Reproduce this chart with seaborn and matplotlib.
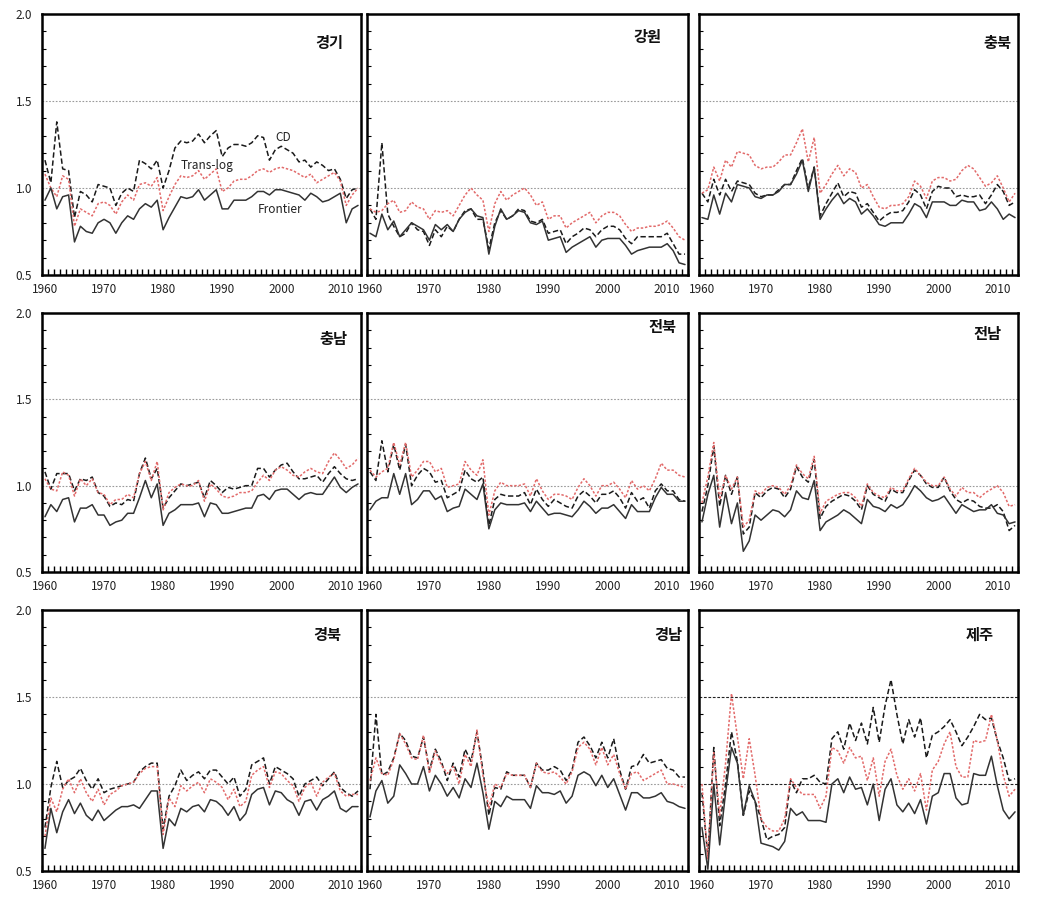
import numpy as np
import pandas as pd
import matplotlib
matplotlib.use("Agg")
import matplotlib.pyplot as plt
import seaborn as sns

# ---------------- data ----------------
years = list(range(1960, 2014))
regions = ["경기", "강원", "충북", "충남", "전북", "전남", "경북", "경남", "제주"]
series_names = ["CD", "Trans-log", "Frontier"]
y_ticks = [0.5, 1.0, 1.5, 2.0]
x_ticks = [1960, 1970, 1980, 1990, 2000, 2010]
ref_levels = [1.0, 1.5]

gg_cd = [1.16, 1.03, 1.38, 1.11, 1.10, 0.83, 0.98, 0.96, 0.92, 1.02,
         1.01, 1.00, 0.90, 0.97, 1.00, 0.98, 1.16, 1.14, 1.11, 1.16,
         1.00, 1.10, 1.23, 1.27, 1.26, 1.27, 1.31, 1.26, 1.30, 1.33,
         1.18, 1.23, 1.25, 1.25, 1.24, 1.26, 1.30, 1.29, 1.16, 1.22,
         1.24, 1.22, 1.20, 1.15, 1.16, 1.12, 1.15, 1.13, 1.10, 1.11,
         1.05, 0.94, 0.99, 1.00]
gg_tl = [1.08, 1.00, 0.95, 1.07, 1.05, 0.78, 0.88, 0.86, 0.84, 0.91,
         0.92, 0.90, 0.85, 0.92, 0.96, 0.93, 1.02, 1.03, 1.01, 1.06,
         0.87, 0.95, 1.02, 1.07, 1.06, 1.07, 1.10, 1.05, 1.08, 1.11,
         0.98, 1.00, 1.04, 1.05, 1.05, 1.07, 1.10, 1.11, 1.09, 1.11,
         1.12, 1.11, 1.10, 1.08, 1.06, 1.08, 1.03, 1.05, 1.07, 1.09,
         1.04, 0.90, 0.96, 1.00]
gg_fr = [0.93, 1.00, 0.88, 0.95, 0.96, 0.69, 0.78, 0.75, 0.74, 0.80,
         0.82, 0.80, 0.74, 0.80, 0.84, 0.82, 0.88, 0.91, 0.89, 0.93,
         0.76, 0.83, 0.89, 0.95, 0.94, 0.95, 0.99, 0.93, 0.96, 0.99,
         0.88, 0.88, 0.93, 0.93, 0.93, 0.95, 0.98, 0.98, 0.96, 0.99,
         0.99, 0.98, 0.97, 0.96, 0.93, 0.97, 0.95, 0.92, 0.93, 0.95,
         0.97, 0.80, 0.88, 0.90]

gw_cd = [0.88, 0.82, 1.26, 0.85, 0.78, 0.72, 0.74, 0.80, 0.76, 0.75,
         0.67, 0.76, 0.72, 0.78, 0.75, 0.82, 0.87, 0.88, 0.82, 0.82,
         0.65, 0.80, 0.87, 0.82, 0.84, 0.88, 0.87, 0.81, 0.80, 0.82,
         0.74, 0.75, 0.76, 0.68, 0.72, 0.74, 0.77, 0.76, 0.72, 0.76,
         0.78, 0.78, 0.76, 0.71, 0.68, 0.72, 0.72, 0.72, 0.72, 0.72,
         0.74, 0.68, 0.62, 0.62]
gw_tl = [0.88, 0.86, 0.87, 0.91, 0.93, 0.86, 0.87, 0.92, 0.89, 0.88,
         0.82, 0.87, 0.86, 0.87, 0.84, 0.90, 0.96, 1.00, 0.96, 0.93,
         0.75, 0.91, 0.98, 0.93, 0.96, 0.98, 1.00, 0.96, 0.90, 0.92,
         0.82, 0.84, 0.84, 0.77, 0.80, 0.82, 0.84, 0.86, 0.80, 0.84,
         0.86, 0.86, 0.84, 0.79, 0.75, 0.77, 0.77, 0.78, 0.78, 0.79,
         0.81, 0.77, 0.72, 0.70]
gw_fr = [0.74, 0.72, 0.85, 0.76, 0.81, 0.72, 0.76, 0.80, 0.78, 0.76,
         0.70, 0.79, 0.76, 0.79, 0.75, 0.82, 0.86, 0.88, 0.84, 0.83,
         0.62, 0.78, 0.88, 0.82, 0.84, 0.87, 0.86, 0.80, 0.79, 0.81,
         0.70, 0.71, 0.72, 0.63, 0.66, 0.68, 0.70, 0.72, 0.66, 0.70,
         0.71, 0.71, 0.71, 0.67, 0.62, 0.64, 0.65, 0.66, 0.66, 0.66,
         0.68, 0.64, 0.57, 0.56]

cb_cd = [0.97, 0.92, 1.05, 0.96, 1.05, 0.98, 1.04, 1.03, 1.02, 0.97,
         0.95, 0.96, 0.96, 0.99, 1.02, 1.02, 1.10, 1.17, 1.00, 1.12,
         0.84, 0.91, 0.97, 1.03, 0.95, 0.98, 0.97, 0.89, 0.91, 0.86,
         0.81, 0.84, 0.86, 0.86, 0.87, 0.92, 0.99, 0.96, 0.88, 0.98,
         1.01, 1.00, 1.00, 0.95, 0.96, 0.95, 0.95, 0.96, 0.91, 0.96,
         1.02, 0.98, 0.90, 0.92]
cb_tl = [0.97, 0.99, 1.12, 1.04, 1.16, 1.12, 1.21, 1.20, 1.19, 1.13,
         1.11, 1.12, 1.12, 1.15, 1.19, 1.19, 1.26, 1.34, 1.15, 1.29,
         0.97, 1.02, 1.08, 1.13, 1.07, 1.11, 1.09, 1.00, 1.02, 0.95,
         0.89, 0.88, 0.90, 0.90, 0.91, 0.95, 1.04, 1.01, 0.94, 1.04,
         1.06, 1.06, 1.04, 1.05, 1.10, 1.13, 1.11, 1.06, 1.01, 1.03,
         1.07, 1.00, 0.92, 0.97]
cb_fr = [0.83, 0.82, 0.96, 0.85, 0.97, 0.92, 1.02, 1.01, 1.00, 0.95,
         0.94, 0.96, 0.96, 0.98, 1.02, 1.02, 1.08, 1.16, 0.98, 1.12,
         0.82, 0.88, 0.93, 0.97, 0.91, 0.94, 0.92, 0.85, 0.88, 0.84,
         0.79, 0.78, 0.80, 0.80, 0.80, 0.85, 0.91, 0.89, 0.83, 0.92,
         0.92, 0.92, 0.90, 0.90, 0.93, 0.92, 0.92, 0.87, 0.88, 0.92,
         0.88, 0.82, 0.85, 0.83]

cn_cd = [1.08, 0.98, 1.07, 1.07, 1.07, 0.97, 1.04, 1.03, 1.05, 0.96,
         0.94, 0.88, 0.90, 0.89, 0.92, 0.91, 1.07, 1.16, 1.04, 1.10,
         0.87, 0.93, 0.97, 1.01, 1.00, 1.01, 1.02, 0.93, 1.03, 1.00,
         0.96, 0.99, 0.98, 0.99, 1.00, 1.00, 1.10, 1.10, 1.05, 1.09,
         1.12, 1.13, 1.08, 1.04, 1.04, 1.05, 1.06, 1.02, 1.07, 1.11,
         1.07, 1.04, 1.03, 1.04]
cn_tl = [1.04, 0.98, 0.97, 1.08, 1.06, 0.94, 1.04, 1.00, 1.04, 0.96,
         0.95, 0.89, 0.92, 0.92, 0.95, 0.93, 1.07, 1.14, 1.03, 1.14,
         0.86, 0.96, 0.99, 1.01, 1.00, 1.00, 1.03, 0.91, 1.01, 0.98,
         0.94, 0.93, 0.94, 0.96, 0.96, 0.97, 1.02, 1.06, 1.03, 1.09,
         1.11, 1.09, 1.06, 1.05, 1.08, 1.10, 1.08, 1.07, 1.14, 1.19,
         1.15, 1.10, 1.12, 1.16]
cn_fr = [0.82, 0.89, 0.85, 0.92, 0.93, 0.79, 0.87, 0.87, 0.89, 0.83,
         0.83, 0.77, 0.79, 0.80, 0.84, 0.84, 0.93, 1.03, 0.93, 1.01,
         0.77, 0.84, 0.86, 0.89, 0.89, 0.89, 0.90, 0.82, 0.90, 0.89,
         0.84, 0.84, 0.85, 0.86, 0.87, 0.87, 0.94, 0.95, 0.92, 0.97,
         0.98, 0.98, 0.95, 0.92, 0.95, 0.96, 0.95, 0.95, 1.00, 1.05,
         0.99, 0.96, 0.99, 1.01]

jb_cd = [1.08, 1.03, 1.26, 1.08, 1.24, 1.09, 1.24, 1.00, 1.06, 1.10,
         1.08, 1.02, 1.03, 0.93, 0.95, 0.97, 1.09, 1.04, 1.02, 1.05,
         0.77, 0.92, 0.95, 0.94, 0.94, 0.94, 0.96, 0.89, 0.98, 0.92,
         0.88, 0.92, 0.90, 0.88, 0.87, 0.94, 0.97, 0.94, 0.90, 0.95,
         0.95, 0.97, 0.93, 0.87, 0.96, 0.91, 0.93, 0.87, 0.97, 1.01,
         0.97, 0.97, 0.92, 0.91]
jb_tl = [1.09, 1.05, 1.08, 1.10, 1.25, 1.12, 1.25, 1.05, 1.09, 1.14,
         1.14, 1.08, 1.10, 0.99, 1.00, 1.01, 1.14, 1.09, 1.06, 1.15,
         0.83, 0.97, 1.02, 1.00, 1.00, 1.00, 1.01, 0.94, 1.04, 0.97,
         0.92, 0.95, 0.95, 0.94, 0.92, 0.99, 1.04, 1.00, 0.94, 1.00,
         1.00, 1.02, 0.98, 0.93, 1.03, 0.98, 1.00, 0.97, 1.04, 1.13,
         1.09, 1.09, 1.06, 1.05]
jb_fr = [0.86, 0.91, 0.93, 0.93, 1.07, 0.95, 1.07, 0.89, 0.92, 0.97,
         0.97, 0.92, 0.94, 0.85, 0.87, 0.88, 0.98, 0.95, 0.92, 1.01,
         0.75, 0.86, 0.90, 0.89, 0.89, 0.89, 0.90, 0.85, 0.91, 0.87,
         0.83, 0.84, 0.84, 0.83, 0.82, 0.86, 0.91, 0.88, 0.84, 0.87,
         0.87, 0.89, 0.85, 0.81, 0.89, 0.85, 0.85, 0.85, 0.93, 0.99,
         0.95, 0.95, 0.91, 0.91]

jn_cd = [0.85, 1.00, 1.23, 0.88, 1.06, 0.95, 1.05, 0.72, 0.76, 0.96,
         0.93, 0.97, 0.99, 0.98, 0.93, 0.98, 1.11, 1.05, 1.02, 1.15,
         0.81, 0.88, 0.91, 0.93, 0.95, 0.94, 0.91, 0.86, 1.00, 0.95,
         0.93, 0.91, 0.98, 0.96, 0.96, 1.03, 1.09, 1.06, 1.01, 0.99,
         0.99, 1.05, 0.97, 0.92, 0.90, 0.92, 0.91, 0.88, 0.87, 0.87,
         0.89, 0.85, 0.74, 0.77]
jn_tl = [0.90, 1.05, 1.25, 0.92, 1.06, 0.98, 1.05, 0.76, 0.80, 0.97,
         0.95, 0.99, 1.00, 0.99, 0.95, 1.00, 1.12, 1.07, 1.04, 1.17,
         0.84, 0.91, 0.93, 0.95, 0.96, 0.96, 0.93, 0.88, 1.01, 0.96,
         0.94, 0.93, 0.99, 0.97, 0.97, 1.04, 1.10, 1.06, 1.02, 1.00,
         1.00, 1.05, 0.98, 0.94, 0.99, 0.96, 0.96, 0.93, 0.96, 0.98,
         1.00, 0.96, 0.88, 0.89]
jn_fr = [0.79, 0.95, 1.06, 0.76, 0.96, 0.78, 0.90, 0.62, 0.68, 0.83,
         0.80, 0.83, 0.86, 0.85, 0.82, 0.86, 0.97, 0.93, 0.92, 1.03,
         0.74, 0.79, 0.81, 0.83, 0.86, 0.84, 0.81, 0.78, 0.92, 0.88,
         0.87, 0.85, 0.89, 0.87, 0.89, 0.94, 1.00, 0.97, 0.93, 0.91,
         0.92, 0.94, 0.89, 0.84, 0.89, 0.87, 0.85, 0.86, 0.86, 0.89,
         0.84, 0.83, 0.78, 0.79]

gb_cd = [0.75, 0.98, 1.13, 0.98, 1.02, 1.04, 1.09, 1.02, 0.97, 1.03,
         0.95, 0.97, 0.98, 0.99, 1.00, 1.01, 1.07, 1.10, 1.12, 1.12,
         0.74, 0.93, 0.99, 1.08, 1.02, 1.05, 1.07, 1.03, 1.08, 1.08,
         1.04, 1.00, 1.04, 0.93, 0.97, 1.11, 1.13, 1.15, 1.00, 1.10,
         1.08, 1.06, 1.03, 0.93, 1.00, 1.02, 1.04, 0.99, 1.03, 1.07,
         0.98, 0.95, 0.93, 0.96]
gb_tl = [0.70, 0.92, 0.84, 0.97, 1.03, 0.95, 1.03, 0.95, 0.90, 0.97,
         0.88, 0.94, 0.96, 0.99, 1.00, 1.01, 1.06, 1.09, 1.10, 1.10,
         0.71, 0.92, 0.87, 0.99, 0.96, 0.99, 1.01, 0.95, 1.03, 1.01,
         0.98, 0.91, 0.97, 0.87, 0.90, 1.05, 1.08, 1.10, 0.98, 1.07,
         1.06, 1.02, 0.99, 0.90, 0.98, 1.01, 0.93, 1.01, 1.04, 1.06,
         0.96, 0.93, 0.94, 0.94]
gb_fr = [0.63, 0.86, 0.72, 0.84, 0.91, 0.83, 0.89, 0.82, 0.79, 0.85,
         0.79, 0.82, 0.85, 0.87, 0.87, 0.88, 0.86, 0.91, 0.96, 0.96,
         0.63, 0.80, 0.76, 0.86, 0.84, 0.87, 0.88, 0.84, 0.91, 0.90,
         0.87, 0.82, 0.87, 0.79, 0.83, 0.94, 0.97, 0.98, 0.88, 0.96,
         0.95, 0.91, 0.89, 0.82, 0.90, 0.91, 0.85, 0.91, 0.93, 0.96,
         0.86, 0.84, 0.87, 0.87]

gn_cd = [0.97, 1.40, 1.05, 1.07, 1.15, 1.29, 1.25, 1.16, 1.15, 1.27,
         1.08, 1.20, 1.13, 1.02, 1.12, 1.04, 1.20, 1.13, 1.30, 1.08,
         0.82, 0.98, 0.97, 1.07, 1.05, 1.05, 1.05, 0.98, 1.12, 1.08,
         1.08, 1.10, 1.08, 1.02, 1.08, 1.24, 1.27, 1.22, 1.15, 1.24,
         1.15, 1.26, 1.08, 0.97, 1.10, 1.11, 1.17, 1.12, 1.13, 1.14,
         1.09, 1.08, 1.04, 1.04]
gn_tl = [1.02, 1.15, 1.06, 1.05, 1.14, 1.29, 1.23, 1.15, 1.14, 1.28,
         1.06, 1.19, 1.11, 1.06, 1.10, 1.00, 1.17, 1.10, 1.31, 1.05,
         0.86, 1.00, 0.98, 1.06, 1.05, 1.05, 1.05, 0.98, 1.12, 1.07,
         1.06, 1.07, 1.04, 1.00, 1.07, 1.21, 1.24, 1.20, 1.11, 1.21,
         1.11, 1.17, 1.06, 0.97, 1.06, 1.07, 1.02, 1.04, 1.06, 1.08,
         1.00, 1.00, 0.99, 0.98]
gn_fr = [0.81, 0.96, 1.02, 0.89, 0.93, 1.11, 1.06, 1.00, 1.00, 1.10,
         0.96, 1.05, 1.00, 0.93, 0.98, 0.92, 1.03, 0.98, 1.12, 0.95,
         0.74, 0.90, 0.87, 0.93, 0.91, 0.91, 0.91, 0.86, 0.99, 0.95,
         0.95, 0.94, 0.96, 0.89, 0.93, 1.05, 1.07, 1.05, 0.99, 1.05,
         0.98, 1.03, 0.94, 0.85, 0.95, 0.95, 0.92, 0.92, 0.93, 0.95,
         0.90, 0.89, 0.87, 0.86]

jj_cd = [0.95, 0.58, 1.21, 0.76, 1.00, 1.30, 1.13, 0.82, 0.96, 0.90,
         0.80, 0.68, 0.70, 0.71, 0.75, 1.02, 0.95, 1.03, 1.03, 1.05,
         1.01, 1.00, 1.26, 1.30, 1.20, 1.35, 1.25, 1.35, 1.23, 1.44,
         1.24, 1.45, 1.60, 1.40, 1.23, 1.37, 1.27, 1.38, 1.15, 1.28,
         1.30, 1.33, 1.37, 1.30, 1.22, 1.27, 1.33, 1.40, 1.37, 1.38,
         1.25, 1.15, 1.02, 1.03]
jj_tl = [1.00, 0.57, 1.18, 0.82, 1.12, 1.52, 1.27, 1.03, 1.26, 1.05,
         0.80, 0.75, 0.73, 0.73, 0.80, 1.03, 0.98, 0.94, 0.94, 0.94,
         0.86, 0.93, 1.21, 1.19, 1.12, 1.21, 1.15, 1.16, 1.02, 1.15,
         0.93, 1.13, 1.20, 1.05, 0.97, 1.03, 0.96, 1.06, 0.85, 1.08,
         1.13, 1.23, 1.30, 1.10, 1.04, 1.04, 1.25, 1.24, 1.25, 1.40,
         1.25, 1.05, 0.93, 0.97]
jj_fr = [0.75, 0.51, 1.00, 0.65, 0.95, 1.21, 1.12, 0.82, 0.99, 0.90,
         0.66, 0.65, 0.64, 0.62, 0.67, 0.86, 0.82, 0.84, 0.79, 0.79,
         0.79, 0.78, 1.00, 1.03, 0.95, 1.04, 0.97, 0.98, 0.88, 1.00,
         0.79, 0.97, 1.03, 0.88, 0.84, 0.89, 0.83, 0.91, 0.77, 0.93,
         0.95, 1.06, 1.06, 0.92, 0.88, 0.89, 1.06, 1.05, 1.05, 1.16,
         0.99, 0.85, 0.80, 0.84]

region_series = {
    "경기": (gg_cd, gg_tl, gg_fr), "강원": (gw_cd, gw_tl, gw_fr),
    "충북": (cb_cd, cb_tl, cb_fr), "충남": (cn_cd, cn_tl, cn_fr),
    "전북": (jb_cd, jb_tl, jb_fr), "전남": (jn_cd, jn_tl, jn_fr),
    "경북": (gb_cd, gb_tl, gb_fr), "경남": (gn_cd, gn_tl, gn_fr),
    "제주": (jj_cd, jj_tl, jj_fr),
}

# ---------------- style ----------------
sns.set_theme(style="white")
plt.rcParams['font.family'] = ['Noto Sans CJK KR', 'DejaVu Sans']

palette = {"CD": "#1a1a1a", "Trans-log": "#e26a6a", "Frontier": "#333333"}
dashes = {"CD": (3.5, 1.8), "Trans-log": (1.6, 1.2), "Frontier": ""}

W, H = 1038, 914
fig = plt.figure(figsize=(W / 100, H / 100), dpi=100)
col_px = [(42, 361), (367, 688), (699, 1018)]
row_px = [(14, 275), (313, 572), (610, 871)]
title_x = [0.90, 0.875, 0.935, 0.915, 0.92, 0.905, 0.895, 0.94, 0.88]
title_y = [0.89, 0.91, 0.89, 0.90, 0.945, 0.92, 0.905, 0.905, 0.905]

for k, reg in enumerate(regions):
    r, c = divmod(k, 3)
    x0, x1 = col_px[c]
    y0, y1 = row_px[r]
    ax = fig.add_axes([x0 / W, 1 - y1 / H, (x1 - x0) / W, (y1 - y0) / H])
    cd, tl, fr = region_series[reg]
    df = pd.DataFrame({
        "year": years * 3,
        "value": cd + tl + fr,
        "series": ["CD"] * len(years) + ["Trans-log"] * len(years) + ["Frontier"] * len(years),
    })
    ref_color = "#222222" if reg == "제주" else "#9a9a9a"
    ref_ls = (0, (2.5, 1.5)) if reg == "제주" else (0, (1.5, 1.5))
    for lv in ref_levels:
        ax.axhline(lv, color=ref_color, lw=0.8, ls=ref_ls, zorder=1)
    sns.lineplot(data=df, x="year", y="value", hue="series", style="series",
                 palette=palette, dashes=dashes, hue_order=series_names,
                 style_order=series_names, legend=False, ax=ax, linewidth=1.1,
                 zorder=3)
    ax.set_xlim(1959.5, 2013.5)
    ax.set_ylim(0.5, 2.0)
    ax.set_xlabel("")
    ax.set_ylabel("")
    ax.set_xticks(x_ticks)
    ax.set_xticklabels([str(t) for t in x_ticks], fontsize=8.5, color="#222222")
    ax.set_xticks(np.arange(1959.5, 2014.0, 1.0), minor=True)
    ax.tick_params(axis="x", which="major", length=0, pad=6)
    ax.tick_params(axis="x", which="minor", direction="in", length=4, width=1.0,
                   bottom=True, top=False, color="black")
    ax.set_yticks(y_ticks)
    ax.set_yticks(np.arange(0.5, 2.01, 0.1), minor=True)
    ax.tick_params(axis="y", which="both", direction="in", left=True, right=False,
                   color="black")
    ax.tick_params(axis="y", which="major", length=0, pad=7)
    ax.tick_params(axis="y", which="minor", length=3, width=0.8)
    if c == 0:
        ax.set_yticklabels([f"{t:.1f}" for t in y_ticks], fontsize=8.5, color="#222222")
    else:
        ax.set_yticklabels([])
    for sp in ax.spines.values():
        sp.set_color("black")
        sp.set_linewidth(1.8)
    ax.text(title_x[k], title_y[k], reg, transform=ax.transAxes, ha="center",
            va="center", fontsize=11, fontweight="bold", color="#111111")
    if reg == "경기":
        ax.text(2000.3, 1.29, "CD", fontsize=8.5, ha="center", va="center", color="#222222")
        ax.text(1987.4, 1.13, "Trans-log", fontsize=8.5, ha="center", va="center", color="#222222")
        ax.text(1999.8, 0.875, "Frontier", fontsize=8.5, ha="center", va="center", color="#222222")

fig.savefig("out.png", dpi=100)
